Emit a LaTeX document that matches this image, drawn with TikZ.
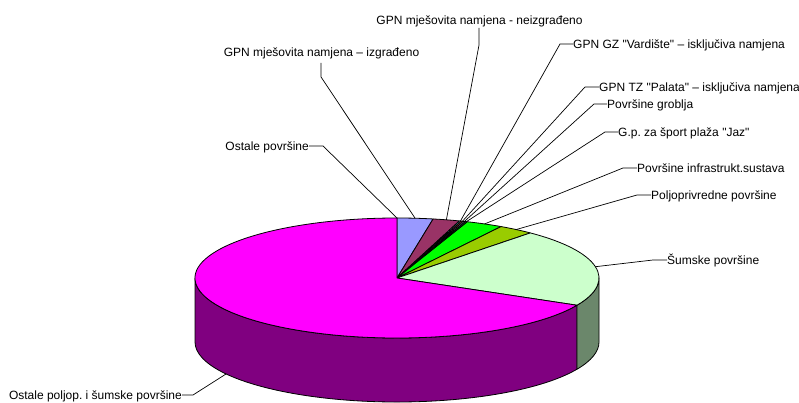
\documentclass[tikz,border=0pt]{standalone}
\usepackage{fontspec}
\setmainfont{Liberation Sans}
\usetikzlibrary{calc}
\frenchspacing
\definecolor{cBlue}{HTML}{9999FF}
\definecolor{cMaroon}{HTML}{993366}
\definecolor{cVard}{HTML}{66CCCC}
\definecolor{cPal}{HTML}{FF6666}
\definecolor{cGrob}{HTML}{CCCCFF}
\definecolor{cJaz}{HTML}{339966}
\definecolor{cGreen}{HTML}{00FF00}
\definecolor{cYG}{HTML}{99CC00}
\definecolor{cLG}{HTML}{CCFFCC}
\definecolor{cLGside}{HTML}{6B876B}
\definecolor{cMag}{HTML}{FF00FF}
\definecolor{cMagside}{HTML}{800080}
\newcommand\pieslice[3]{\filldraw[fill=#1, pieedge] (c) -- ([shift={(#2:202pt and 60pt)}]c) arc[start angle=#2, end angle=#3, x radius=202pt, y radius=60pt] -- cycle;}
\newcommand\pieside[3]{\filldraw[fill=#1, pieedge] ([shift={(#2:202pt and 60pt)}]c) arc[start angle=#2, end angle=#3, x radius=202pt, y radius=60pt] -- ([shift={(#3:202pt and 60pt)}]cb) arc[start angle=#3, end angle=#2, x radius=202pt, y radius=60pt] -- cycle;}
\newcommand\dq{\textquotedbl}
\begin{document}
\begin{tikzpicture}[x=1pt,y=1pt,
  lbl/.style={font=\fontsize{12}{14}\selectfont, inner sep=0pt, text height=8.6pt, text depth=0pt},
  leader/.style={draw=black, line width=0.7pt},
  pieedge/.style={draw=black, line width=0.8pt, line join=round}]
\useasboundingbox (0,0) rectangle (799,403);
\coordinate (c) at (397,125);
\coordinate (cb) at (397,61);
% front sides
\pieside{cMagside}{180}{333}
\pieside{cLGside}{333}{360}
% top slices
\pieslice{cBlue}{90}{79.7}
\pieslice{cMaroon}{79.7}{72}
\pieslice{cVard}{72}{71.4}
\pieslice{cPal}{71.4}{70.8}
\pieslice{cGrob}{70.8}{70.2}
\pieslice{cJaz}{70.2}{69.6}
\pieslice{cGreen}{69.6}{59}
\pieslice{cYG}{59}{48.7}
\pieslice{cLG}{48.7}{-27}
\pieslice{cMag}{-27}{-270}
% leader end points
\coordinate (pOst) at ([shift={(90:202pt and 60pt)}]c);
\coordinate (pBlue) at ([shift={(84.85:202pt and 60pt)}]c);
\coordinate (pMar) at ([shift={(75.85:202pt and 60pt)}]c);
\coordinate (pVard) at ([shift={(71.7:202pt and 60pt)}]c);
\coordinate (pPal) at ([shift={(71.1:202pt and 60pt)}]c);
\coordinate (pGrob) at ([shift={(70.5:202pt and 60pt)}]c);
\coordinate (pJaz) at ([shift={(69.9:202pt and 60pt)}]c);
\coordinate (pInf) at ([shift={(64.3:202pt and 60pt)}]c);
\coordinate (pPolj) at ([shift={(53.85:202pt and 60pt)}]c);
\coordinate (pSum) at ([shift={(10.85:202pt and 60pt)}]c);
\coordinate (pMag) at ([shift={(-147.8:202pt and 60pt)}]cb);
% labels
\node[lbl] (lNeiz) at (479.5,383) {GPN mješovita namjena - neizgrađeno};
\node[lbl] (lIzg) at (321.5,351) {GPN mješovita namjena – izgrađeno};
\node[lbl, anchor=east] (lOst) at (309,257) {Ostale površine};
\node[lbl, anchor=east] (lMag) at (182,8) {Ostale poljop. i šumske površine};
\node[lbl, anchor=west] (lVard) at (573,359) {GPN GZ \dq Vardište\dq{} – isključiva namjena};
\node[lbl, anchor=west] (lPal) at (599,316) {GPN TZ \dq Palata\dq{} – isključiva namjena};
\node[lbl, anchor=west] (lGrob) at (607,299) {Površine groblja};
\node[lbl, anchor=west] (lJaz) at (618,271) {G.p. za šport plaža \dq Jaz\dq};
\node[lbl, anchor=west] (lInf) at (637,235) {Površine infrastrukt.sustava};
\node[lbl, anchor=west] (lPolj) at (651,208) {Poljoprivredne površine};
\node[lbl, anchor=west] (lSum) at (667,143) {Šumske površine};
% leaders
\draw[leader] (479,375) -- (479,358) -- (pMar);
\draw[leader] (321,340) -- (321,326) -- (pBlue);
\draw[leader] (lOst.east) -- ++(14,0) -- (pOst);
\draw[leader] (lMag.east) -- ++(11,0) -- (pMag);
\draw[leader] (lVard.west) -- ++(-13,0) -- (pVard);
\draw[leader] (lPal.west) -- ++(-14,0) -- (pPal);
\draw[leader] (lGrob.west) -- ++(-13,0) -- (pGrob);
\draw[leader] (lJaz.west) -- ++(-13,0) -- (pJaz);
\draw[leader] (lInf.west) -- ++(-14,0) -- (pInf);
\draw[leader] (lPolj.west) -- ++(-14,0) -- (pPolj);
\draw[leader] (lSum.west) -- ++(-14,0) -- (pSum);
\end{tikzpicture}
\end{document}
